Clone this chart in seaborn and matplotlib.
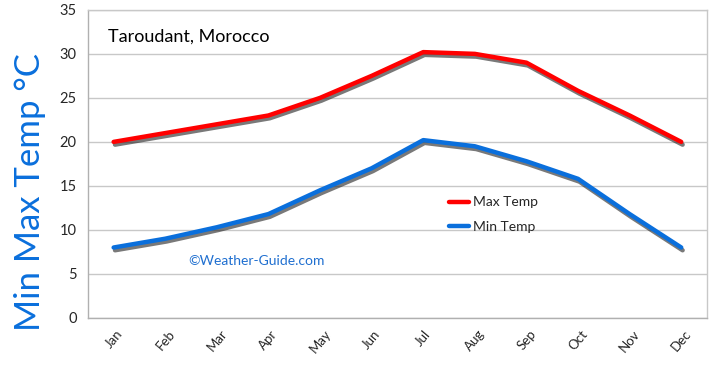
import matplotlib
matplotlib.use("Agg")
import matplotlib.pyplot as plt
import matplotlib.patheffects as pe
from matplotlib.lines import Line2D
import numpy as np
import pandas as pd
import seaborn as sns

months = ["Jan", "Feb", "Mar", "Apr", "May", "Jun",
          "Jul", "Aug", "Sep", "Oct", "Nov", "Dec"]
max_temp = [20, 21, 22, 23, 25, 27.5, 30.2, 30, 29, 25.8, 23, 20]
min_temp = [8, 9, 10.3, 11.8, 14.5, 17, 20.2, 19.5, 17.8, 15.8, 11.8, 8]
series_names = ["Max Temp", "Min Temp"]
series_colors = {"Max Temp": "#ff0000", "Min Temp": "#0a6fdc"}

sns.set_style("white")
plt.rcParams['font.family'] = ['Lato', 'DejaVu Sans']

df = pd.DataFrame({
    "month": months * 2,
    "temp": max_temp + min_temp,
    "series": [series_names[0]] * 12 + [series_names[1]] * 12,
})

fig = plt.figure(figsize=(7.2, 3.65), dpi=100)
ax = fig.add_axes([0.122, 0.129, 0.86, 0.844])

sns.lineplot(data=df, x="month", y="temp", hue="series", palette=series_colors,
             linewidth=3.2, sort=False, legend=False, ax=ax)

# drop shadow under the lines
for line in ax.lines:
    line.set_solid_capstyle("round")
    line.set_solid_joinstyle("round")
    line.set_path_effects([
        pe.SimpleLineShadow(offset=(1, -2), shadow_color="#202020", alpha=0.6),
        pe.Normal(),
    ])

ax.set_xlim(-0.5, 11.5)
ax.set_ylim(0, 35)
ax.set_yticks(range(0, 36, 5))
ax.set_xticks(range(12))
ax.set_xticklabels(months, rotation=50, fontsize=9.5)
ax.set_xticks(np.arange(-0.5, 12, 1), minor=True)
ax.tick_params(axis="x", which="major", length=0, pad=7)
ax.tick_params(axis="x", which="minor", length=5, color="#b0b0b0", width=1)
ax.tick_params(axis="y", length=4, color="#b0b0b0", labelsize=10.5, pad=4)
ax.set_xlabel("")
ax.set_ylabel("")

ax.yaxis.grid(True, color="#c8c8c8", linewidth=1)
ax.set_axisbelow(True)
for side, sp in ax.spines.items():
    sp.set_color("#c8c8c8" if side in ("top", "right") else "#b0b0b0")
    sp.set_linewidth(1)

fig.text(0.042, 0.475, "Min Max Temp °C", rotation=90, color="#0a6fdc",
         fontsize=25, ha="center", va="center")
fig.text(108 / 720, 1 - 37 / 365, "Taroudant, Morocco", fontsize=13,
         color="black", ha="left", va="center")
fig.text(188 / 720, 1 - 261 / 365, "©Weather-Guide.com", fontsize=10,
         color="#1f6fd0", ha="left", va="center")

handles = [Line2D([0], [0], color=series_colors[n], linewidth=3.2) for n in series_names]
fig.legend(handles, series_names, loc="upper left",
           bbox_to_anchor=(437 / 720, 1 - 184 / 365), frameon=False,
           fontsize=10, handlelength=1.4, handletextpad=0.3, labelspacing=0.9)

fig.savefig("out.png", dpi=100)
